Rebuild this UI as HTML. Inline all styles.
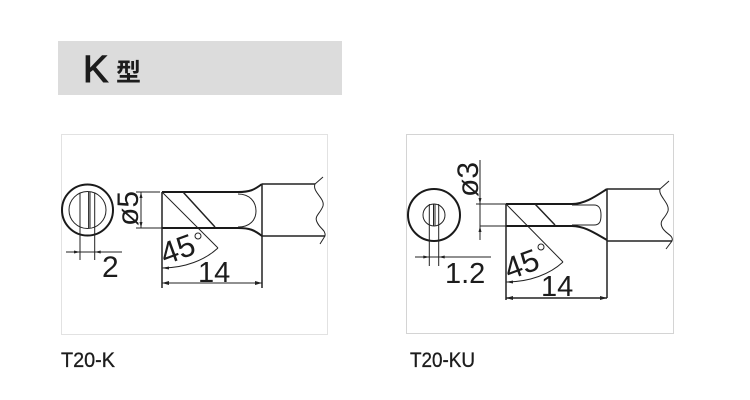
<!DOCTYPE html>
<html><head><meta charset="utf-8"><style>
html,body{margin:0;padding:0;background:#fff;width:750px;height:400px;overflow:hidden}
svg{display:block;filter:blur(0.35px)}
text{font-family:"Liberation Sans","Noto Sans CJK SC",sans-serif;fill:#1c1c1c}
.l{fill:none;stroke:#222;stroke-width:1}
.m{fill:none;stroke:#222;stroke-width:1.5}
.h{fill:none;stroke:#1a1a1a;stroke-width:2}
.a{fill:#222;stroke:none}
.lab{font-size:21px;stroke:#1c1c1c;stroke-width:.3px}
</style></head><body>
<svg width="750" height="400" viewBox="0 0 750 400" xmlns="http://www.w3.org/2000/svg">
<rect x="58" y="41" width="284" height="54" fill="#dcdcdc"/>
<text x="83" y="82" font-size="38" stroke="#1c1c1c" stroke-width="1">K</text>
<text x="116" y="81" font-size="25" font-weight="bold" style="font-family:'Noto Sans CJK SC',sans-serif">型</text>

<rect x="61.5" y="134.5" width="266" height="200" fill="#fff" stroke="#e2e2e2"/>
<rect x="406.5" y="134.5" width="267" height="199" fill="#fff" stroke="#d4d4d4"/>

<!-- Left -->
<g>
<circle cx="87.5" cy="210" r="25.5" class="h" stroke-width="2.4"/>
<circle cx="87.5" cy="210" r="18.5" class="l"/>
<path class="l" d="M80 193V260M94.7 193V260M88.6 192V228M90 192V228M66 252H122"/>
<path class="a" d="M80 252l-6-1.5v3zM94.7 252l6-1.5v3z"/>
<text x="102" y="277" font-size="30">2</text>
<text transform="translate(138,226) rotate(-90)" font-size="30">ø5</text>
<path class="l" d="M136 192H160M136 228H196M141 192V228"/>
<path class="a" d="M141 192l-1.5 6h3zM141 228l-1.5-6h3z"/>
<path class="h" d="M162 192H238C250 192 254 190 262 184"/>
<path class="h" d="M162 228H238C250 228 254 230 262 236"/>
<path class="m" d="M162 192V288M262 184V288"/>
<path class="l" d="M238 194C250 194 256 202 256 211C256 220 250 227 238 227"/>
<path class="l" d="M162 192L218 248" stroke-width="1.2"/>
<path class="m" d="M183 192L215 227"/>
<path class="m" d="M262 184H315M262 236H325"/>
<path class="l" d="M323 177L315 184C312 192 325 198 323 206C320 214 314 216 317 222C320 229 326 230 325 236L320 244"/>
<path class="l" d="M162 268C185 268 205 260 218 248M162 283H262"/>
<path class="a" d="M162 268l7-1.5v3zM162 283l7-2v4zM262 283l-7-2v4z"/>
<text transform="translate(165,265) rotate(-20)" font-size="31">45</text>
<text x="198" y="282" font-size="29">14</text>
<circle cx="198" cy="236" r="3" class="l"/>
</g>

<!-- Right -->
<g>
<circle cx="434" cy="215" r="26" class="h" stroke-width="2.4"/>
<circle cx="434" cy="215" r="11" class="l" stroke-width="1.2"/>
<path class="l" d="M429.3 204V266M438.7 204V266M433.5 204V226M435 204V226M415 257H491"/>
<path class="a" d="M429.3 257l-6-1.5v3zM438.7 257l6-1.5v3z"/>
<text x="445" y="283" font-size="29">1.2</text>
<text transform="translate(478,197) rotate(-90)" font-size="30">ø3</text>
<path class="l" d="M476 204H506M480 226H506M480 160V240"/>
<path class="a" d="M480 204l-1.5-6h3zM480 226l-1.5 6h3z"/>
<path class="h" d="M506 204H572C585 204 596 196 607 189"/>
<path class="h" d="M506 226H572C585 226 596 234 607 240"/>
<path class="m" d="M506 204V300M607 189V298"/>
<path class="l" d="M572 205H594C600 205 601 210 601 215C601 221 600 225 594 225H572"/>
<path class="l" d="M506 204L563 262" stroke-width="1.2"/>
<path class="m" d="M535 204L555 225"/>
<path class="m" d="M607 189H660M607 241H672"/>
<path class="l" d="M669 181L660 189C658 196 670 203 668 211C665 219 659 220 662 227C665 234 674 235 672 241L666 249"/>
<path class="l" d="M506 282C530 282 550 274 563 262"/>
<path class="m" d="M506 298H607"/>
<path class="a" d="M506 282l7-1.5v3zM506 298l7-2v4zM607 298l-7-2v4z"/>
<text transform="translate(509,280) rotate(-20)" font-size="31">45</text>
<text x="541" y="296" font-size="29">14</text>
<circle cx="541" cy="247" r="3" class="l"/>
</g>

<text class="lab" x="61" y="367" textLength="54" lengthAdjust="spacingAndGlyphs">T20-K</text>
<text class="lab" x="410" y="367" textLength="65" lengthAdjust="spacingAndGlyphs">T20-KU</text>
</svg>
</body></html>
